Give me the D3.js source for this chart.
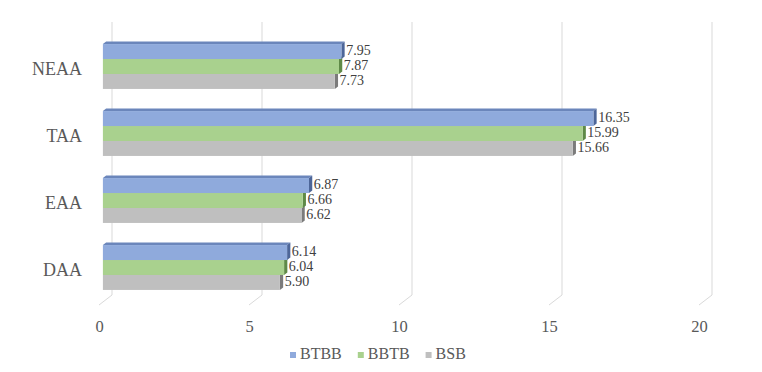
<!DOCTYPE html>
<html>
<head>
<meta charset="utf-8">
<script src="https://cdn.jsdelivr.net/npm/d3@7"></script>
<style>
  body { margin: 0; background: #fff; }
  svg text { font-family: "Liberation Serif", "Times New Roman", serif; }
</style>
</head>
<body>
<div id="chart"></div>
<script>
const width = 762;
const height = 372;

const categories = ["NEAA", "TAA", "EAA", "DAA"];
const seriesNames = ["BTBB", "BBTB", "BSB"];
const btbb = [7.95, 16.35, 6.87, 6.14];
const bbtb = [7.87, 15.99, 6.66, 6.04];
const bsb = [7.73, 15.66, 6.62, 5.90];
const xTicks = [0, 5, 10, 15, 20];

const seriesValues = [btbb, bbtb, bsb];
const colors = {
    BTBB: {front: "#8faadc", top: "#6b86bb", side: "#4d6699"},
    BBTB: {front: "#a9d18e", top: "#86ad6c", side: "#5f8a47"},
    BSB:  {front: "#bfbfbf", top: "#9e9e9e", side: "#7b7b7b"}
};

// oblique 3d: full depth of the floor, bars sit in the middle of it
const depth = {dx: 13, dy: -10};
const barFront = 0.3, barBack = 0.55;
const floorY = 305;
const wallTop = 22;

const x = d3.scaleLinear()
    .domain([0, 20])
    .range([99, 699]);

// band scale for the bars' front faces
const y = d3.scaleBand()
    .domain(categories)
    .range([33, 301])
    .paddingInner(0.33)
    .paddingOuter(0.165);

const ySeries = d3.scaleBand()
    .domain(seriesNames)
    .range([0, y.bandwidth()]);

const svg = d3.select("#chart").append("svg")
    .attr("width", width)
    .attr("height", height);

// back wall gridlines and floor lines
const grid = svg.append("g");
grid.selectAll(".wall-line")
    .data(xTicks)
    .join("line")
    .attr("x1", d => x(d) + depth.dx)
    .attr("x2", d => x(d) + depth.dx)
    .attr("y1", wallTop)
    .attr("y2", floorY + depth.dy)
    .attr("stroke", "#d9d9d9")
    .attr("stroke-width", 1);
grid.selectAll(".floor-line")
    .data(xTicks)
    .join("line")
    .attr("x1", d => x(d) + depth.dx)
    .attr("x2", d => x(d))
    .attr("y1", floorY + depth.dy)
    .attr("y2", floorY)
    .attr("stroke", "#d9d9d9")
    .attr("stroke-width", 1);

// flatten into bars, bottom series drawn first so upper bars cover them
const bars = [];
categories.forEach((c, i) => {
    for (let s = seriesNames.length - 1; s >= 0; s--) {
        bars.push({cat: c, series: seriesNames[s], value: seriesValues[s][i]});
    }
});

const fx = depth.dx * barFront;
const bdx = depth.dx * (barBack - barFront), bdy = depth.dy * (barBack - barFront);

const barG = svg.append("g")
    .selectAll("g")
    .data(bars)
    .join("g")
    .attr("transform", d => `translate(${fx},${y(d.cat) + ySeries(d.series)})`);

barG.append("path")
    .attr("fill", d => colors[d.series].top)
    .attr("d", d => {
        const x0 = x(0), x1 = x(d.value);
        return `M${x0},0L${x0 + bdx},${bdy}L${x1 + bdx},${bdy}L${x1},0Z`;
    });

barG.append("path")
    .attr("fill", d => colors[d.series].side)
    .attr("d", d => {
        const x1 = x(d.value), h = ySeries.bandwidth();
        return `M${x1},0L${x1 + bdx},${bdy}L${x1 + bdx},${h + bdy}L${x1},${h}Z`;
    });

barG.append("rect")
    .attr("x", x(0))
    .attr("y", 0)
    .attr("width", d => x(d.value) - x(0))
    .attr("height", ySeries.bandwidth())
    .attr("fill", d => colors[d.series].front);

barG.append("text")
    .attr("x", d => x(d.value) + bdx + 1.5)
    .attr("y", ySeries.bandwidth() / 2 + 0.5)
    .attr("dominant-baseline", "middle")
    .attr("font-size", 14)
    .attr("fill", "#404040")
    .text(d => d.value.toFixed(2));

// value axis along the front floor edge
const xAxis = svg.append("g")
    .attr("transform", `translate(0,${floorY + 15})`)
    .call(d3.axisBottom(x).tickValues(xTicks).tickSize(0).tickPadding(0));
xAxis.select(".domain").remove();
xAxis.selectAll("text")
    .attr("dy", "0.71em")
    .attr("font-size", 16.5)
    .attr("fill", "#595959");

// category axis
const yAxis = svg.append("g")
    .attr("transform", `translate(82,3)`)
    .call(d3.axisLeft(y).tickSize(0).tickPadding(0));
yAxis.select(".domain").remove();
yAxis.selectAll("text")
    .attr("font-size", 18)
    .attr("fill", "#595959");

// legend
const legend = svg.append("g")
    .attr("transform", "translate(290,355)");
let lx = 0;
seriesNames.forEach(name => {
    const item = legend.append("g").attr("transform", `translate(${lx},0)`);
    item.append("rect")
        .attr("x", 0)
        .attr("y", -3)
        .attr("width", 6)
        .attr("height", 6)
        .attr("fill", colors[name].front);
    const t = item.append("text")
        .attr("x", 10)
        .attr("dominant-baseline", "middle")
        .attr("font-size", 16)
        .attr("fill", "#595959")
        .text(name);
    lx += 10 + t.node().getComputedTextLength() + 16;
});
</script>
</body>
</html>
